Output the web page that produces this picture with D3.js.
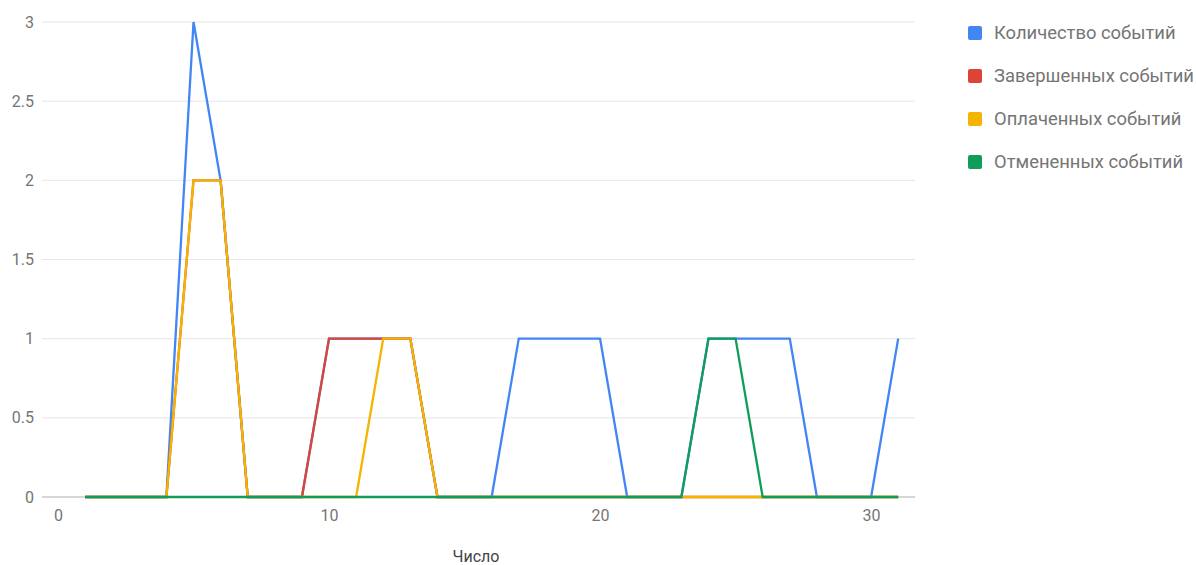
<!DOCTYPE html>
<html>
<head>
<meta charset="utf-8">
<script src="https://cdn.jsdelivr.net/npm/d3@7"></script>
<style>
  html, body { margin: 0; padding: 0; background: #fff; }
  svg { display: block; font-family: Roboto, "Noto Sans", sans-serif; }
</style>
</head>
<body>
<svg id="chart" width="1196" height="565"></svg>
<script>
// Day of month (1..31)
const days = d3.range(1, 32);

// Daily counts per series
const totalEvents     = [0,0,0,0,3,2,0,0,0,1,1,1,1,0,0,0,1,1,1,1,0,0,0,1,1,1,1,0,0,0,1];
const completedEvents = [0,0,0,0,2,2,0,0,0,1,1,1,1,0,0,0,0,0,0,0,0,0,0,0,0,0,0,0,0,0,0];
const paidEvents      = [0,0,0,0,2,2,0,0,0,0,0,1,1,0,0,0,0,0,0,0,0,0,0,0,0,0,0,0,0,0,0];
const cancelledEvents = [0,0,0,0,0,0,0,0,0,0,0,0,0,0,0,0,0,0,0,0,0,0,0,1,1,0,0,0,0,0,0];

const seriesNames  = ["Количество событий", "Завершенных событий", "Оплаченных событий", "Отмененных событий"];
const seriesColors = ["#4285f4", "#db4437", "#f4b400", "#0f9d58"];
const seriesValues = [totalEvents, completedEvents, paidEvents, cancelledEvents];

const xTicks = [0, 10, 20, 30];
const yTicks = [0, 0.5, 1, 1.5, 2, 2.5, 3];
const xTitle = "Число";

const svg = d3.select("#chart");

const x = d3.scaleLinear().domain([-0.59, 31.62]).range([42, 915]);
const y = d3.scaleLinear().domain([0, 3]).range([497, 22]);

// Horizontal gridlines
svg.append("g")
  .selectAll("line")
  .data(yTicks.filter(t => t !== 0))
  .join("line")
  .attr("x1", x.range()[0]).attr("x2", x.range()[1])
  .attr("y1", d => y(d)).attr("y2", d => y(d))
  .attr("stroke", "#e6e6e6").attr("stroke-width", 1);

// Baseline
svg.append("line")
  .attr("x1", x.range()[0]).attr("x2", x.range()[1])
  .attr("y1", y(0)).attr("y2", y(0))
  .attr("stroke", "#c8c8c8").attr("stroke-width", 1.5);

// Y axis labels
const yAxis = d3.axisLeft(y).tickValues(yTicks).tickSize(0).tickPadding(0)
  .tickFormat(d3.format("~g"));
const gy = svg.append("g").attr("transform", "translate(34,0)").call(yAxis);
gy.select(".domain").remove();
gy.selectAll("text").attr("fill", "#757575").style("font-size", "16px")
  .style("font-family", "Roboto, sans-serif");

// X axis labels
const xAxis = d3.axisBottom(x).tickValues(xTicks).tickSize(0).tickPadding(0)
  .tickFormat(d3.format("d"));
const gx = svg.append("g").attr("transform", "translate(0,510)").call(xAxis);
gx.select(".domain").remove();
gx.selectAll("text").attr("fill", "#757575").style("font-size", "16px")
  .style("font-family", "Roboto, sans-serif");

// X axis title
svg.append("text")
  .attr("x", 476)
  .attr("y", 562)
  .attr("text-anchor", "middle")
  .attr("fill", "#444")
  .style("font-size", "16px")
  .text(xTitle);

// Series lines
const line = d3.line()
  .x((d, i) => x(days[i]))
  .y(d => y(d));

svg.append("g")
  .selectAll("path")
  .data(seriesValues)
  .join("path")
  .attr("d", d => line(d))
  .attr("fill", "none")
  .attr("stroke", (d, i) => seriesColors[i])
  .attr("stroke-width", 2.3)
  .attr("stroke-linejoin", "miter");

// Legend
const legend = svg.append("g").attr("transform", "translate(968,0)");
const items = legend.selectAll("g")
  .data(seriesNames)
  .join("g")
  .attr("transform", (d, i) => `translate(0,${33 + i * 43})`);
items.append("rect")
  .attr("x", 0).attr("y", -7)
  .attr("width", 14).attr("height", 14)
  .attr("rx", 2)
  .attr("fill", (d, i) => seriesColors[i]);
items.append("text")
  .attr("x", 26).attr("y", 0)
  .attr("dy", "0.35em")
  .attr("fill", "#757575")
  .style("font-size", "18.4px")
  .text(d => d);
</script>
</body>
</html>
